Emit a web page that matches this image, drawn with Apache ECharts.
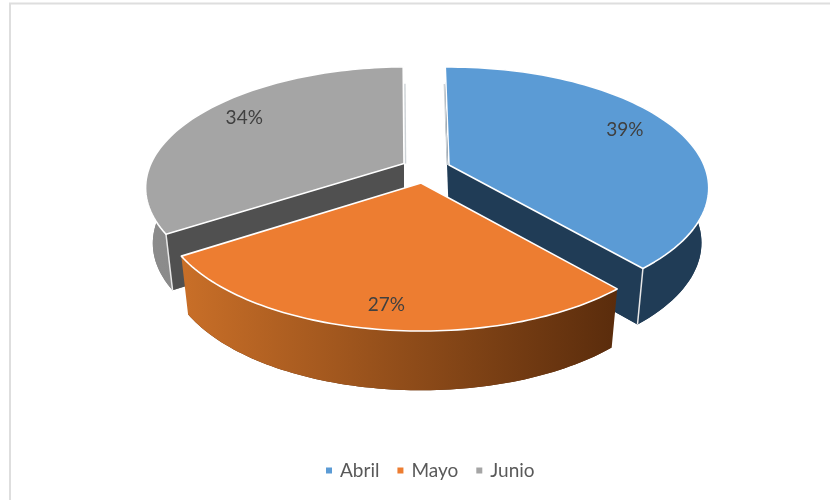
<!DOCTYPE html>
<html><head><meta charset="utf-8">
<style>html,body{margin:0;padding:0;background:#fff}#c{width:830px;height:500px;filter:blur(0.6px)}</style>
<script src="https://cdn.jsdelivr.net/npm/echarts@6/dist/echarts.min.js"></script>
</head><body><div id="c"></div>
<script>
const categories = ['Abril', 'Mayo', 'Junio'];
const values = [39, 27, 34];
const topColors = ['#5b9bd5', '#ed7d31', '#a5a5a5'];
const apexX = [449, 421, 404];
const apexY = [165, 183, 163.5];
const radiusX = [255, 255, 253];
const radiusY = [116.6, 118, 115];
const persp = [0.19, 0.203, 0.19];
const shear = [0, 0, -0.03];
const depth = [54.5, 57, 55];
const labelFrac = [0.8, 0.86, 0.81];
const labelTurn = [-3, -0.5, 4];
const cutEdge = ['end', null, 'start'];
const cutColors = ['#203c56', null, '#505050'];
const wallStops = [['#203c56', '#203c56'], ['#c96f28', '#5a2c0c'], ['#8c8c8c', '#7a7a7a']];
const slivers = [[-1.6, 'start'], null, [1.6, 'end']];
const drawOrder = [2, 3, 1];

const START_DEG = -1, SX = 0.972, SY = 1.015;
const total = values.reduce((a, b) => a + b, 0);

function proj(i, deg, f, lower) {
  const a = deg * Math.PI / 180;
  const u = f * Math.sin(a), v = -f * Math.cos(a), w = 1 - persp[i] * v;
  const sx = lower ? SX : 1, sy = lower ? SY : 1;
  const X = sx * radiusX[i] * u / w, Y = sy * radiusY[i] * v / w;
  return [apexX[i] + X + shear[i] * Y, apexY[i] + (lower ? depth[i] : 0) + Y];
}
function arc(i, a0, a1, lower) {
  const n = 80, out = [];
  for (let s = 0; s <= n; s++) out.push(proj(i, a0 + (a1 - a0) * s / n, 1, lower));
  return out;
}
function renderSlice(params, api) {
  const i = params.seriesIndex;
  let before = 0;
  for (let j = 0; j < i; j++) before += values[j];
  const a0 = START_DEG + before / total * 360;
  const a1 = a0 + api.value(0) / total * 360;
  const topArc = arc(i, a0, a1, false);
  const lowArc = arc(i, a0, a1, true);
  const apexT = proj(i, 0, 0, false), apexL = proj(i, 0, 0, true);
  const ch = [];
  ch.push({ type: 'polygon', shape: { points: [apexL].concat(lowArc) }, style: { fill: wallStops[i][1] } });
  ch.push({ type: 'polygon', shape: { points: topArc.concat(lowArc.slice().reverse()) },
    style: { fill: { type: 'linear', x: 0, y: 0, x2: 1, y2: 0, colorStops: [
      { offset: 0, color: wallStops[i][0] }, { offset: 1, color: wallStops[i][1] }] } } });
  if (cutEdge[i]) {
    const e = cutEdge[i] === 'end' ? a1 : a0;
    const pT = proj(i, e, 1, false), pL = proj(i, e, 1, true);
    ch.push({ type: 'polygon', shape: { points: [apexT, pT, pL, apexL] }, style: { fill: cutColors[i] } });
    ch.push({ type: 'line', shape: { x1: pT[0], y1: pT[1], x2: pL[0], y2: pL[1] },
      style: { stroke: '#e8e8e8', lineWidth: 1.5 } });
  }
  ch.push({ type: 'polygon', shape: { points: [apexT].concat(topArc) },
    style: { fill: topColors[i], stroke: '#ffffff', lineWidth: 1.6, lineJoin: 'round' } });
  if (slivers[i]) {
    const e = slivers[i][1] === 'start' ? a0 : a1;
    const dx = slivers[i][0];
    const p0 = proj(i, e, 0.0, false), p1 = proj(i, e, 0.8, false);
    ch.push({ type: 'line', shape: { x1: p0[0] + dx, y1: p0[1], x2: p1[0] + dx, y2: p1[1] },
      style: { stroke: '#cdd2d6', lineWidth: 1.4 } });
  }
  const mid = (a0 + a1) / 2 + labelTurn[i];
  const lp = proj(i, mid, labelFrac[i], false);
  ch.push({ type: 'text', style: {
    x: lp[0], y: lp[1], text: Math.round(api.value(0) / total * 100) + '%',
    fill: '#404040', font: '19px Lato, Carlito, sans-serif', align: 'center', verticalAlign: 'middle' } });
  return { type: 'group', children: ch };
}

const chart = echarts.init(document.getElementById('c'), null, { renderer: 'canvas' });
chart.setOption({
  animation: false,
  backgroundColor: '#ffffff',
  legend: {
    data: categories, left: 321, top: 456, icon: 'rect', itemWidth: 6, itemHeight: 6, itemGap: 18,
    selectedMode: false, textStyle: { fontFamily: 'Lato, sans-serif', fontSize: 19, color: '#595959', padding: [0, 0, 0, 3] }
  },
  graphic: [{ type: 'polyline', silent: true, z: -1,
    shape: { points: [[10, 500], [10, 3.5], [830, 3.5]] },
    style: { stroke: '#dedede', lineWidth: 2, fill: null } }],
  series: categories.map((name, i) => ({
    type: 'custom', name, coordinateSystem: 'none', z: drawOrder[i], silent: true,
    itemStyle: { color: topColors[i] },
    renderItem: renderSlice, data: [[values[i]]], clip: false
  }))
});
</script></body></html>
